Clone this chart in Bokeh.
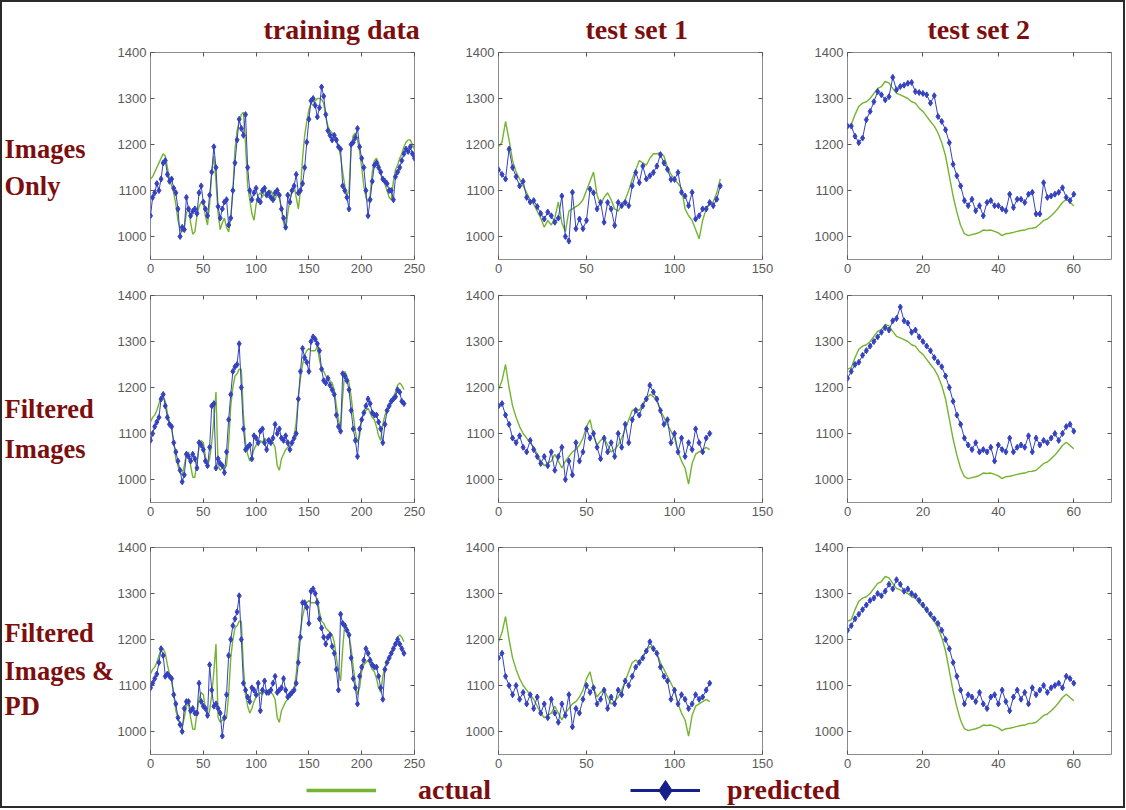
from bokeh.plotting import figure
from bokeh.models import Range1d, FixedTicker, LinearAxis, Legend, LegendItem, ColumnDataSource
from bokeh.layouts import row, column
from bokeh.embed import file_html
from bokeh.resources import INLINE
from bokeh.core.properties import value

# ---------------- data ----------------
col_titles = ["training data", "test set 1", "test set 2"]
row_labels = [["Images", "Only"], ["Filtered", "Images"], ["Filtered", "Images &", "PD"]]
legend_labels = ["actual", "predicted"]
y_ticks = [1000, 1100, 1200, 1300, 1400]
x_ticks_train = [0, 50, 100, 150, 200, 250]
x_ticks_test1 = [0, 50, 100, 150]
x_ticks_test2 = [0, 20, 40, 60]

train_x_1 = list(range(0, 251, 2))
train_x_f = list(range(0, 241, 2))
test1_x_1 = list(range(0, 127, 2))
test1_x_f = list(range(0, 121, 2))
test2_x = list(range(0, 61))

train_actual_1 = [
    1125, 1130, 1140, 1150, 1160, 1170, 1180, 1175, 1150, 1125,
    1110, 1095, 1070, 1035, 1015, 1010, 1020, 1050, 1065, 1030,
    1005, 1010, 1045, 1065, 1075, 1070, 1045, 1025, 1070, 1140,
    1175, 1120, 1050, 1015, 1030, 1040, 1020, 1010, 1040, 1100,
    1190, 1230, 1250, 1265, 1270, 1200, 1110, 1080, 1050, 1035,
    1070, 1090, 1095, 1085, 1100, 1095, 1085, 1100, 1090, 1080,
    1095, 1085, 1060, 1030, 1015, 1050, 1080, 1100, 1110, 1085,
    1060, 1100, 1170, 1220, 1250, 1275, 1290, 1285, 1295, 1300,
    1300, 1298, 1290, 1260, 1240, 1230, 1225, 1215, 1205, 1195,
    1175, 1140, 1110, 1090, 1100, 1195, 1220, 1225, 1210, 1185,
    1150, 1110, 1085, 1075, 1090, 1140, 1165, 1170, 1160, 1135,
    1120, 1115, 1100, 1085, 1080, 1120, 1145, 1155, 1170, 1180,
    1195, 1205, 1210, 1210, 1200, 1190]
train_pred_1 = [
    1045, 1085, 1095, 1115, 1100, 1125, 1160, 1165, 1135, 1120,
    1125, 1105, 1095, 1060, 1000, 1020, 1015, 1085, 1060, 1045,
    1055, 1060, 1050, 1095, 1110, 1075, 1060, 1045, 1090, 1140,
    1195, 1150, 1065, 1040, 1060, 1075, 1080, 1025, 1040, 1100,
    1160, 1210, 1255, 1235, 1220, 1265, 1150, 1100, 1080, 1095,
    1105, 1080, 1075, 1100, 1105, 1090, 1095, 1085, 1080, 1095,
    1100, 1090, 1060, 1040, 1020, 1090, 1075, 1100, 1110, 1135,
    1095, 1100, 1115, 1150, 1205, 1255, 1295, 1300, 1285, 1260,
    1280, 1325, 1305, 1265, 1230, 1220, 1210, 1220, 1210, 1195,
    1190, 1110, 1100, 1085, 1060, 1200, 1205, 1215, 1235, 1195,
    1170, 1150, 1100, 1045, 1080, 1120, 1155, 1160, 1150, 1140,
    1125, 1120, 1115, 1100, 1100, 1080, 1130, 1140, 1150, 1165,
    1180, 1190, 1185, 1195, 1180, 1170]
train_actual_f = [
    1125, 1135, 1140, 1150, 1165, 1180, 1180, 1170, 1145, 1125,
    1110, 1080, 1045, 1030, 1015, 1010, 1030, 1055, 1060, 1030,
    1005, 1005, 1040, 1070, 1085, 1080, 1050, 1030, 1045, 1080,
    1130, 1190, 1030, 1020, 1025, 1025, 1030, 1080, 1160, 1200,
    1225, 1230, 1240, 1240, 1140, 1080, 1055, 1040, 1050, 1065,
    1075, 1080, 1085, 1080, 1090, 1085, 1090, 1085, 1080, 1070,
    1030, 1020, 1045, 1055, 1065, 1070, 1075, 1080, 1095, 1125,
    1180, 1220, 1250, 1270, 1280, 1285, 1280, 1280, 1280, 1290,
    1260, 1240, 1235, 1225, 1220, 1215, 1210, 1195, 1160, 1130,
    1110, 1180, 1235, 1225, 1210, 1180, 1140, 1105, 1080, 1095,
    1130, 1145, 1150, 1155, 1145, 1135, 1130, 1115, 1095, 1085,
    1120, 1140, 1150, 1160, 1170, 1180, 1190, 1205, 1210, 1205,
    1195]
train_pred_2 = [
    1085, 1100, 1115, 1125, 1135, 1175, 1185, 1160, 1135, 1120,
    1115, 1080, 1060, 1040, 1020, 995, 1010, 1055, 1050, 1040,
    1055, 1045, 1025, 1080, 1075, 1065, 1040, 1030, 1070, 1160,
    1165, 1025, 1045, 1035, 1030, 1015, 1060, 1130, 1185, 1235,
    1245, 1250, 1295, 1200, 1110, 1065, 1070, 1075, 1045, 1095,
    1090, 1080, 1105, 1110, 1080, 1065, 1085, 1080, 1090, 1120,
    1100, 1110, 1090, 1085, 1095, 1080, 1065, 1080, 1090, 1100,
    1175, 1235, 1285, 1265, 1255, 1235, 1300, 1310, 1305, 1295,
    1280, 1240, 1215, 1210, 1220, 1205, 1195, 1185, 1140, 1115,
    1105, 1230, 1225, 1215, 1195, 1150, 1110, 1085, 1050, 1110,
    1130, 1145, 1160, 1175, 1165, 1145, 1140, 1140, 1125, 1110,
    1080, 1120, 1150, 1160, 1170, 1175, 1180, 1195, 1190, 1170,
    1165]
train_pred_3 = [
    1095, 1105, 1115, 1125, 1150, 1180, 1165, 1120, 1125, 1120,
    1115, 1080, 1060, 1030, 1015, 1000, 1050, 1065, 1065, 1045,
    1050, 1040, 1040, 1105, 1065, 1055, 1050, 1035, 1145, 1090,
    1055, 1060, 1050, 1040, 990, 1030, 1080, 1165, 1200, 1230,
    1245, 1260, 1295, 1200, 1105, 1090, 1075, 1065, 1095, 1090,
    1080, 1105, 1045, 1090, 1110, 1085, 1085, 1090, 1105, 1120,
    1085, 1090, 1095, 1115, 1090, 1075, 1080, 1085, 1090, 1105,
    1150, 1205, 1280, 1280, 1270, 1235, 1305, 1310, 1300, 1280,
    1245, 1225, 1205, 1190, 1205, 1210, 1185, 1170, 1135, 1090,
    1255, 1235, 1230, 1220, 1210, 1160, 1115, 1095, 1060, 1120,
    1140, 1155, 1180, 1170, 1155, 1145, 1140, 1140, 1120, 1095,
    1070, 1135, 1150, 1160, 1170, 1180, 1190, 1200, 1190, 1180,
    1170]

test1_actual_1 = [
    1195, 1205, 1250, 1210, 1165, 1140, 1125, 1110, 1095, 1080,
    1070, 1055, 1040, 1020, 1035, 1025, 1040, 1075, 1030, 1010,
    1055, 1060, 1065, 1070, 1080, 1100, 1120, 1140, 1090, 1070,
    1085, 1095, 1080, 1060, 1055, 1070, 1080, 1100, 1125, 1145,
    1165, 1160, 1155, 1170, 1180, 1180, 1182, 1175, 1150, 1135,
    1125, 1115, 1105, 1060, 1045, 1035, 1015, 995, 1035, 1060,
    1070, 1075, 1095, 1125]
test1_pred_1 = [
    1145, 1135, 1125, 1190, 1150, 1130, 1110, 1120, 1085, 1075,
    1078, 1065, 1050, 1038, 1053, 1045, 1031, 1040, 1088, 1000,
    990, 1096, 1017, 1038, 1017, 1035, 1103, 1095, 1060, 1074,
    1031, 1074, 1060, 1024, 1074, 1067, 1074, 1067, 1110, 1139,
    1117, 1153, 1125, 1132, 1139, 1153, 1178, 1160, 1146, 1124,
    1124, 1139, 1096, 1088, 1067, 1096, 1038, 1045, 1060, 1060,
    1074, 1067, 1081, 1110]
test1_actual_f = [
    1195, 1215, 1250, 1200, 1160, 1135, 1115, 1100, 1090, 1080,
    1070, 1055, 1040, 1030, 1035, 1040, 1055, 1040, 1025, 1040,
    1050, 1060, 1065, 1075, 1090, 1115, 1130, 1095, 1075, 1085,
    1090, 1075, 1060, 1065, 1075, 1090, 1110, 1130, 1150, 1155,
    1150, 1165, 1175, 1185, 1180, 1170, 1150, 1135, 1120, 1105,
    1090, 1060, 1040, 1025, 990, 1035, 1055, 1060, 1065, 1070,
    1065]
test1_pred_2 = [
    1160, 1165, 1140, 1120, 1090, 1080, 1095, 1070, 1060, 1085,
    1065, 1050, 1035, 1050, 1030, 1060, 1020, 1050, 1070, 1000,
    1040, 1010, 1080, 1040, 1060, 1110, 1090, 1100, 1070, 1045,
    1090, 1060, 1080, 1050, 1100, 1070, 1120, 1080, 1130, 1150,
    1140, 1160, 1175, 1205, 1190, 1175, 1150, 1120, 1130, 1080,
    1100, 1060, 1090, 1050, 1080, 1065, 1110, 1080, 1060, 1090,
    1100]
test1_pred_3 = [
    1160, 1170, 1120, 1100, 1080, 1100, 1070, 1085, 1060, 1080,
    1050, 1075, 1040, 1060, 1030, 1070, 1040, 1020, 1060, 1035,
    1080, 1010, 1050, 1040, 1070, 1100, 1085, 1095, 1060, 1070,
    1090, 1050, 1075, 1060, 1090, 1080, 1110, 1100, 1120, 1140,
    1150, 1160, 1175, 1195, 1180, 1170, 1140, 1120, 1110, 1070,
    1090, 1060, 1080, 1070, 1050, 1060, 1080, 1070, 1075, 1090,
    1105]

test2_actual = [
    1240, 1243, 1265, 1283, 1290, 1293, 1300, 1311, 1322, 1326,
    1337, 1334, 1322, 1311, 1308, 1304, 1300, 1293, 1290, 1279,
    1272, 1261, 1250, 1240, 1225, 1204, 1175, 1132, 1088, 1053,
    1024, 1006, 1002, 1004, 1006, 1009, 1014, 1013, 1014, 1011,
    1008, 1002, 1006, 1007, 1009, 1011, 1013, 1014, 1017, 1018,
    1020, 1027, 1035, 1038, 1045, 1053, 1063, 1074, 1081, 1074,
    1067]
test2_pred_1 = [
    1240, 1240, 1218, 1204, 1214, 1254, 1272, 1293, 1315, 1308,
    1297, 1304, 1346, 1319, 1326, 1329, 1333, 1335, 1315, 1313,
    1311, 1308, 1290, 1306, 1261, 1250, 1232, 1204, 1157, 1132,
    1110, 1078, 1067, 1081, 1056, 1067, 1045, 1074, 1078, 1067,
    1067, 1060, 1056, 1092, 1063, 1081, 1081, 1074, 1092, 1096,
    1049, 1049, 1117, 1085, 1088, 1092, 1096, 1106, 1085, 1078,
    1092]
test2_pred_2 = [
    1220, 1235, 1250, 1255, 1270, 1280, 1290, 1300, 1310, 1320,
    1330, 1325, 1345, 1350, 1375, 1345, 1340, 1320, 1325, 1310,
    1300, 1290, 1280, 1265, 1255, 1245, 1225, 1200, 1170, 1140,
    1120, 1090, 1075, 1065, 1080, 1060, 1065, 1060, 1070, 1040,
    1075, 1065, 1060, 1090, 1060, 1070, 1075, 1070, 1095, 1060,
    1090, 1075, 1085, 1080, 1090, 1100, 1085, 1100, 1115, 1120,
    1105]
test2_pred_3 = [
    1220, 1230, 1245, 1255, 1265, 1275, 1285, 1290, 1300, 1295,
    1305, 1320, 1310, 1330, 1320, 1305, 1310, 1300, 1295, 1285,
    1275, 1265, 1255, 1245, 1235, 1220, 1200, 1180, 1150, 1120,
    1090, 1060, 1080, 1075, 1065, 1085, 1060, 1050, 1075, 1080,
    1060, 1090, 1065, 1045, 1075, 1090, 1070, 1085, 1060, 1095,
    1080, 1090, 1100, 1085, 1095, 1100, 1105, 1095, 1120, 1115,
    1105]

# ---------------- style ----------------
RED = "#7d0e0e"
GREEN = "#74b42f"
BLUE = "#3542c0"
NAVY = "#17208a"
FRAME = "#8a8a8a"
TICKTXT = "#5a5a5a"
SERIF = "Liberation Serif"
SANS = "Liberation Sans"
FW, FH = 264, 207
Y0, Y1 = 950, 1400


def style_axis(ax, ticks, show_labels=True):
    ax.ticker = FixedTicker(ticks=ticks)
    ax.axis_line_color = None
    ax.major_tick_in = 4
    ax.major_tick_out = 0
    ax.major_tick_line_color = "#555555"
    ax.minor_tick_line_color = None
    if show_labels:
        ax.major_label_text_font = SANS
        ax.major_label_text_font_size = "13px"
        ax.major_label_text_color = TICKTXT
        ax.major_label_standoff = 4
    else:
        ax.major_label_text_font_size = "1px"
        ax.major_label_text_color = None
        ax.major_label_standoff = 0


def panel(xmax, xticks, ml, mr, mt, mb, title=None, title_offset=0):
    p = figure(frame_width=FW, frame_height=FH,
               x_range=Range1d(0, xmax), y_range=Range1d(Y0, Y1),
               min_border_left=ml, min_border_right=mr,
               min_border_top=mt, min_border_bottom=mb,
               output_backend="svg", toolbar_location=None,
               background_fill_color="white", border_fill_color="white")
    if title is not None:
        p.title.text = title
        p.title.align = "left"
        p.title.offset = title_offset
        p.title.standoff = 16
        p.title.text_font = SERIF
        p.title.text_font_style = "bold"
        p.title.text_font_size = "28px"
        p.title.text_color = RED
    p.xgrid.visible = False
    p.ygrid.visible = False
    p.outline_line_color = FRAME
    p.outline_line_width = 1
    style_axis(p.xaxis[0], xticks)
    style_axis(p.yaxis[0], y_ticks)
    top = LinearAxis()
    style_axis(top, xticks, show_labels=False)
    p.add_layout(top, "above")
    right = LinearAxis()
    style_axis(right, y_ticks, show_labels=False)
    p.add_layout(right, "right")
    return p


def series(p, x, actual, x_pred, pred):
    p.line(x, actual, line_color=GREEN, line_width=1.4)
    p.line(x_pred, pred, line_color=BLUE, line_width=1)
    p.scatter(x_pred, pred, marker="diamond", size=6,
              fill_color=BLUE, line_color=BLUE)


def label_fig(texts, offsets, mt, mb):
    # a bare strip whose data space is pixel space, used to hold the row labels
    lw = 112
    p = figure(frame_width=lw, frame_height=FH,
               x_range=Range1d(0, lw), y_range=Range1d(FH, 0),
               min_border_left=0, min_border_right=0,
               min_border_top=mt, min_border_bottom=mb,
               x_axis_location=None, y_axis_location=None,
               output_backend="svg", toolbar_location=None,
               background_fill_color="white", border_fill_color="white")
    p.xgrid.visible = False
    p.ygrid.visible = False
    p.outline_line_color = None
    src = ColumnDataSource(data=dict(x=[2] * len(texts), y=offsets, t=texts))
    p.text("x", "y", text="t", source=src, text_font=value(SERIF),
           text_font_style="bold", text_font_size=value("26.5px"),
           text_color=RED, text_baseline="middle", text_align="left")
    return p


row_tops = [50, 12, 21]
row_bots = [24, 24, 20]
train_sets = [(train_x_1, train_actual_1, train_x_1, train_pred_1),
              (train_x_f, train_actual_f, train_x_f, train_pred_2),
              (train_x_f, train_actual_f, train_x_f, train_pred_3)]
t1_sets = [(test1_x_1, test1_actual_1, test1_x_1, test1_pred_1),
           (test1_x_f, test1_actual_f, test1_x_f, test1_pred_2),
           (test1_x_f, test1_actual_f, test1_x_f, test1_pred_3)]
t2_sets = [(test2_x, test2_actual, test2_x, test2_pred_1),
           (test2_x, test2_actual, test2_x, test2_pred_2),
           (test2_x, test2_actual, test2_x, test2_pred_3)]
label_offsets = [[96, 133], [113, 153], [85, 123, 158]]
title_offsets = [113, 87, 80]

rows = []
for r in range(3):
    t = (lambda i: col_titles[i] if r == 0 else None)
    lab = label_fig(row_labels[r], label_offsets[r], row_tops[r], row_bots[r])
    f1 = panel(250, x_ticks_train, 36, 40, row_tops[r], row_bots[r], t(0), title_offsets[0])
    f2 = panel(150, x_ticks_test1, 44, 41, row_tops[r], row_bots[r], t(1), title_offsets[1])
    f3 = panel(70, x_ticks_test2, 44, 10, row_tops[r], row_bots[r], t(2), title_offsets[2])
    series(f1, *train_sets[r])
    series(f2, *t1_sets[r])
    series(f3, *t2_sets[r])
    rows.append(row(lab, f1, f2, f3))

# legend strip (proxy renderers sit outside the visible range)
LW, LH = 1121, 32
lf = figure(width=LW, height=LH, min_border=0, x_range=Range1d(0, 1), y_range=Range1d(0, 1),
            output_backend="svg", toolbar_location=None,
            x_axis_location=None, y_axis_location=None,
            background_fill_color="white", border_fill_color="white")
lf.xgrid.visible = False
lf.ygrid.visible = False
lf.outline_line_color = None
proxy = ColumnDataSource(data=dict(x=[-5, -4], y=[-5, -5]))
g_r = lf.line("x", "y", source=proxy, line_color=GREEN, line_width=3.5)
b_r = lf.line("x", "y", source=proxy, line_color=NAVY, line_width=3)
m_r = lf.scatter("x", "y", source=proxy, marker="diamond", size=17,
                 fill_color=NAVY, line_color=NAVY)


def make_legend(item, x, y, gh, standoff):
    return Legend(items=[item], location=(x, y), orientation="horizontal",
                  glyph_width=70, glyph_height=gh, label_standoff=standoff,
                  padding=0, margin=0, border_line_color=None, background_fill_alpha=0,
                  label_text_font=SERIF, label_text_font_style="bold",
                  label_text_font_size="28px", label_text_color=RED)


lf.add_layout(make_legend(LegendItem(label=legend_labels[0], renderers=[g_r]), 304, 0, 20, 42))
lf.add_layout(make_legend(LegendItem(label=legend_labels[1], renderers=[b_r, m_r]), 628, -9, 50, 27))

layout = column(*rows, lf, styles={"border": "2px solid #2a2a2a"})

open("out.html", "w").write(file_html(layout, INLINE))
